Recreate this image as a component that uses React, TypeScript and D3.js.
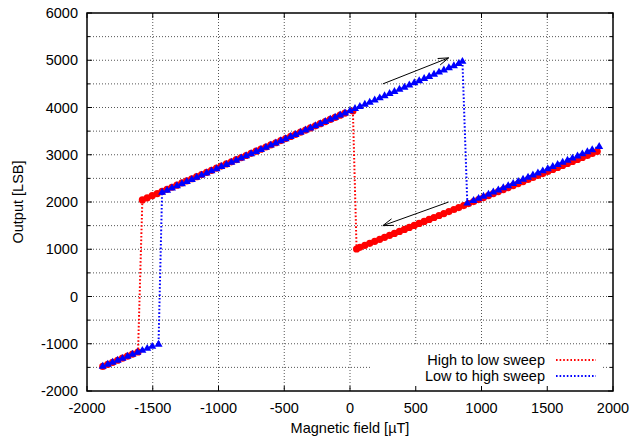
import React from "react";
import * as d3 from "d3";

// High to low sweep (red) in sweep order
const redX = [
  1880, 1842, 1805, 1767, 1730, 1692, 1654, 1617, 1579, 1542, 1504, 1466, 1429, 1391, 1354, 1316, 1279, 1241, 1203, 1166,
  1128, 1090, 1053, 1015, 978, 940, 902, 865, 827, 790, 752, 714, 677, 639, 602, 564, 526, 489, 451, 414,
  376, 338, 301, 263, 226, 188, 150, 113, 75, 50,
  22, -38, -75, -113, -150, -188, -226, -263, -301, -338, -376, -414, -451, -489, -526, -564, -602, -639, -677, -714,
  -752, -790, -827, -865, -902, -940, -978, -1015, -1053, -1090, -1128, -1166, -1203, -1241, -1278, -1316, -1354, -1391, -1429, -1466,
  -1504, -1542, -1579,
  -1612, -1654, -1692, -1730, -1767, -1805, -1842, -1880,
];
const redY = [
  3070, 3028, 2986, 2943, 2901, 2858, 2815, 2773, 2730, 2688, 2645, 2602, 2561, 2518, 2476, 2433, 2391, 2348, 2305, 2264,
  2221, 2178, 2137, 2094, 2052, 2009, 1966, 1925, 1882, 1841, 1798, 1756, 1714, 1672, 1631, 1588, 1546, 1504, 1462, 1420,
  1378, 1335, 1294, 1252, 1210, 1168, 1125, 1084, 1041, 1005,
  3926, 3881, 3837, 3791, 3747, 3702, 3657, 3612, 3567, 3523, 3478, 3433, 3388, 3343, 3299, 3254, 3208, 3164, 3119, 3075,
  3030, 2984, 2940, 2895, 2851, 2806, 2760, 2716, 2671, 2627, 2581, 2536, 2492, 2447, 2403, 2357, 2312, 2268, 2223, 2179,
  2133, 2088, 2044,
  -1175, -1218, -1262, -1306, -1349, -1393, -1436, -1480,
];

// Low to high sweep (blue)
const blueX = [
  -1880, -1842, -1805, -1767, -1730, -1692, -1654, -1617, -1579, -1542, -1504, -1456,
  -1429, -1391, -1354, -1316, -1278, -1241, -1203, -1166, -1128, -1090, -1053, -1015, -978, -940, -902, -865, -827, -790,
  -752, -714, -677, -639, -602, -564, -526, -489, -451, -414, -376, -338, -301, -263, -226, -188, -150, -113, -75, -38,
  0, 38, 75, 113, 150, 188, 226, 263, 301, 338, 376, 414, 451, 489, 526, 564, 602, 639, 677, 714,
  752, 790, 827, 855,
  892, 940, 978, 1015, 1053, 1090, 1128, 1166, 1203, 1241, 1279, 1316, 1354, 1391, 1429, 1466, 1504, 1542, 1579, 1617,
  1654, 1692, 1730, 1767, 1805, 1842, 1895,
];
const blueY = [
  -1470, -1428, -1386, -1343, -1302, -1259, -1217, -1175, -1133, -1091, -1048, -1005,
  2212, 2258, 2303, 2349, 2394, 2439, 2485, 2530, 2576, 2622, 2666, 2712, 2757, 2803, 2849, 2893, 2939, 2984,
  3030, 3076, 3120, 3166, 3211, 3257, 3303, 3348, 3393, 3438, 3484, 3530, 3575, 3621, 3665, 3711, 3757, 3802, 3848, 3892,
  3938, 3984, 4029, 4075, 4119, 4165, 4211, 4256, 4302, 4346, 4392, 4438, 4483, 4529, 4574, 4620, 4665, 4710, 4756, 4801,
  4847, 4893, 4937, 4983,
  1983, 2038, 2084, 2128, 2173, 2217, 2263, 2308, 2352, 2398, 2443, 2487, 2533, 2577, 2622, 2666, 2712, 2757, 2801, 2847,
  2891, 2936, 2982, 3026, 3071, 3115, 3180,
];

const xTicks = [-2000, -1500, -1000, -500, 0, 500, 1000, 1500, 2000];
const yTicks = [-2000, -1000, 0, 1000, 2000, 3000, 4000, 5000, 6000];
const yMinorTicks = [-1500, -500, 500, 1500, 2500, 3500, 4500, 5500];

// sweep direction arrows, in data units
const arrows = [
  { x1: 250, y1: 4500, x2: 750, y2: 5050 },
  { x1: 750, y1: 2000, x2: 250, y2: 1500 },
];

const legendItems = [
  { label: "High to low sweep", color: "#ff0000" },
  { label: "Low to high sweep", color: "#0000ff" },
];

const W = 634;
const H = 443;
const left = 87;
const right = 613;
const top = 13;
const bottom = 391;
const font = "'Liberation Sans', Arial, Helvetica, sans-serif";

export default function App() {
  const x = d3.scaleLinear().domain([-2000, 2000]).range([left, right]);
  const y = d3.scaleLinear().domain([-2000, 6000]).range([bottom, top]);

  const line = d3
    .line<[number, number]>()
    .x((d) => x(d[0]))
    .y((d) => y(d[1]));

  const red: [number, number][] = redX.map((v, i) => [v, redY[i]]);
  const blue: [number, number][] = blueX.map((v, i) => [v, blueY[i]]);
  const tri = d3.symbol().type(d3.symbolTriangle).size(28)();

  const arrowPath = (a) => {
    const x1 = x(a.x1), y1 = y(a.y1), x2 = x(a.x2), y2 = y(a.y2);
    const ang = Math.atan2(y2 - y1, x2 - x1);
    const len = 11;
    const spread = 0.32;
    const hx1 = x2 - len * Math.cos(ang - spread);
    const hy1 = y2 - len * Math.sin(ang - spread);
    const hx2 = x2 - len * Math.cos(ang + spread);
    const hy2 = y2 - len * Math.sin(ang + spread);
    return `M${x1},${y1}L${x2},${y2}M${hx1},${hy1}L${x2},${y2}L${hx2},${hy2}`;
  };

  const gridStyle = { stroke: "#555", strokeWidth: 1, strokeDasharray: "1,2" };
  const dotted = "1.6,2";

  return (
    <svg
      width={W}
      height={H}
      style={{ position: "absolute", left: 0, top: 0, background: "#fff" }}
      fontFamily={font}
    >
      {/* grid */}
      <g>
        {xTicks.slice(1, -1).map((t) => (
          <line key={"gx" + t} x1={x(t)} x2={x(t)} y1={top} y2={bottom} {...gridStyle} />
        ))}
        {[...yTicks.slice(1, -1), ...yMinorTicks].map((t) => (
          <line key={"gy" + t} x1={left} x2={right} y1={y(t)} y2={y(t)} {...gridStyle} />
        ))}
      </g>

      {/* key background */}
      <rect x={372} y={346} width={231} height={43} fill="#fff" />

      {/* red series */}
      <path d={line(red) || ""} fill="none" stroke="#ff0000" strokeWidth={2} strokeDasharray={dotted} />
      {red.map((d, i) => (
        <circle key={"r" + i} cx={x(d[0])} cy={y(d[1])} r={3.6} fill="#ff0000" />
      ))}

      {/* blue series */}
      <path d={line(blue) || ""} fill="none" stroke="#0000ff" strokeWidth={2} strokeDasharray={dotted} />
      {blue.map((d, i) => (
        <path key={"b" + i} d={tri || ""} transform={`translate(${x(d[0])},${y(d[1]) + 0.5})`} fill="#0000ff" />
      ))}

      {/* arrows */}
      {arrows.map((a, i) => (
        <path key={"a" + i} d={arrowPath(a)} fill="none" stroke="#000" strokeWidth={1} />
      ))}

      {/* ticks */}
      <g stroke="#000" strokeWidth={1}>
        {xTicks.map((t) => (
          <g key={"tx" + t}>
            <line x1={x(t)} x2={x(t)} y1={bottom} y2={bottom - 5} />
            <line x1={x(t)} x2={x(t)} y1={top} y2={top + 5} />
          </g>
        ))}
        {yTicks.map((t) => (
          <g key={"ty" + t}>
            <line x1={left} x2={left + 5} y1={y(t)} y2={y(t)} />
            <line x1={right} x2={right - 5} y1={y(t)} y2={y(t)} />
          </g>
        ))}
        {yMinorTicks.map((t) => (
          <g key={"tm" + t}>
            <line x1={left} x2={left + 3} y1={y(t)} y2={y(t)} />
            <line x1={right} x2={right - 3} y1={y(t)} y2={y(t)} />
          </g>
        ))}
      </g>

      {/* border */}
      <rect x={left} y={top} width={right - left} height={bottom - top} fill="none" stroke="#000" strokeWidth={1.5} />

      {/* tick labels */}
      <g fontSize={14.5} fill="#000">
        {xTicks.map((t) => (
          <text key={"lx" + t} x={x(t)} y={bottom + 22} textAnchor="middle">
            {t}
          </text>
        ))}
        {yTicks.map((t) => (
          <text key={"ly" + t} x={left - 9} y={y(t)} dy="0.36em" textAnchor="end">
            {t}
          </text>
        ))}
      </g>

      {/* axis titles */}
      <text x={(left + right) / 2} y={433} textAnchor="middle" fontSize={14.5}>
        Magnetic field [µT]
      </text>
      <text
        transform={`translate(23,${(top + bottom) / 2}) rotate(-90)`}
        textAnchor="middle"
        fontSize={14.5}
      >
        Output [LSB]
      </text>

      {/* legend */}
      {legendItems.map((it, i) => (
        <g key={it.label} transform={`translate(0,${360 + i * 16})`}>
          <text x={545} y={0} dy="0.36em" textAnchor="end" fontSize={14.5}>
            {it.label}
          </text>
          <line x1={556} x2={596} y1={0} y2={0} stroke={it.color} strokeWidth={2} strokeDasharray={dotted} />
        </g>
      ))}
    </svg>
  );
}
